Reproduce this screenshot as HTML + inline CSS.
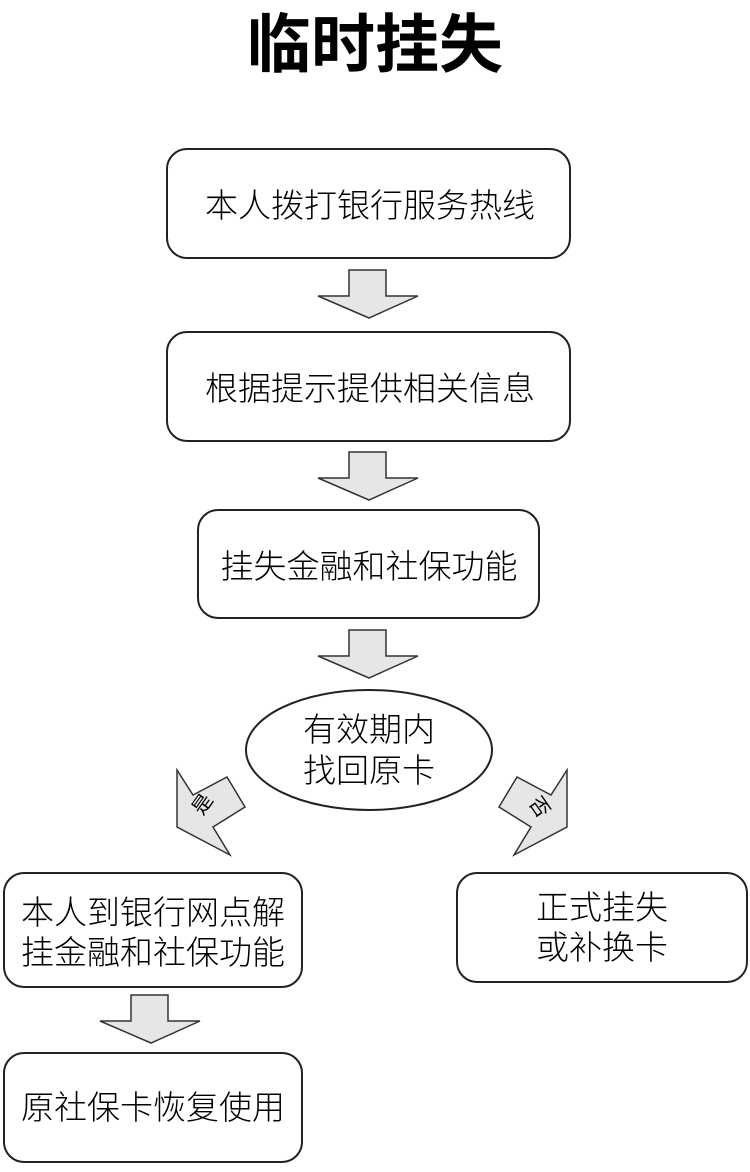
<!DOCTYPE html>
<html><head><meta charset="utf-8"><style>
body{margin:0;background:#fff;}
svg text{font-family:"Liberation Sans","Noto Sans CJK SC",sans-serif;fill:#000;}
</style></head><body>
<svg width="750" height="1167" viewBox="0 0 750 1167" xmlns="http://www.w3.org/2000/svg">
<text x="375" y="67" font-size="64" font-weight="bold" text-anchor="middle">临时挂失</text>
<g fill="#fff" stroke="#222" stroke-width="2">
<rect x="167" y="149" width="403" height="109" rx="20"/>
<rect x="167" y="332" width="403" height="109" rx="20"/>
<rect x="198" y="510" width="341" height="108" rx="20"/>
<ellipse cx="369" cy="750" rx="123" ry="60"/>
<rect x="4" y="873" width="298" height="114" rx="20"/>
<rect x="457" y="873" width="290" height="109" rx="20"/>
<rect x="4" y="1053" width="298" height="109" rx="20"/>
</g>
<g fill="#e6e6e6" stroke="#333" stroke-width="1.5">
<polygon points="349,270 386,270 386,296 418,296 369,318 318,296 349,296"/>
<polygon points="349,452 386,452 386,478 418,478 369,500 318,478 349,478"/>
<polygon points="349,630 386,630 386,656 418,656 369,678 318,656 349,656"/>
<polygon points="131,995 168,995 168,1021 200,1021 151,1043 100,1021 131,1021"/>
<polygon points="177,770 193,795 227,777 245,807 213,827 230,855 177,827"/>
<polygon points="567,770 551,795 517,777 499,807 531,827 514,855 567,827"/>
</g>
<g font-size="33" text-anchor="middle" font-weight="300">
<text x="370" y="217">本人拨打银行服务热线</text>
<text x="370" y="400">根据提示提供相关信息</text>
<text x="369" y="578">挂失金融和社保功能</text>
<text x="369" y="741">有效期内</text>
<text x="369" y="782">找回原卡</text>
<text x="153" y="924">本人到银行网点解</text>
<text x="153" y="964">挂金融和社保功能</text>
<text x="602" y="919">正式挂失</text>
<text x="602" y="959">或补换卡</text>
<text x="153" y="1119">原社保卡恢复使用</text>
</g>
<text x="0" y="0" font-size="20" text-anchor="middle" transform="translate(208,808) rotate(-55)">是</text>
<text x="0" y="0" font-size="20" text-anchor="middle" transform="translate(534,811) rotate(55)">否</text>
</svg>
</body></html>
